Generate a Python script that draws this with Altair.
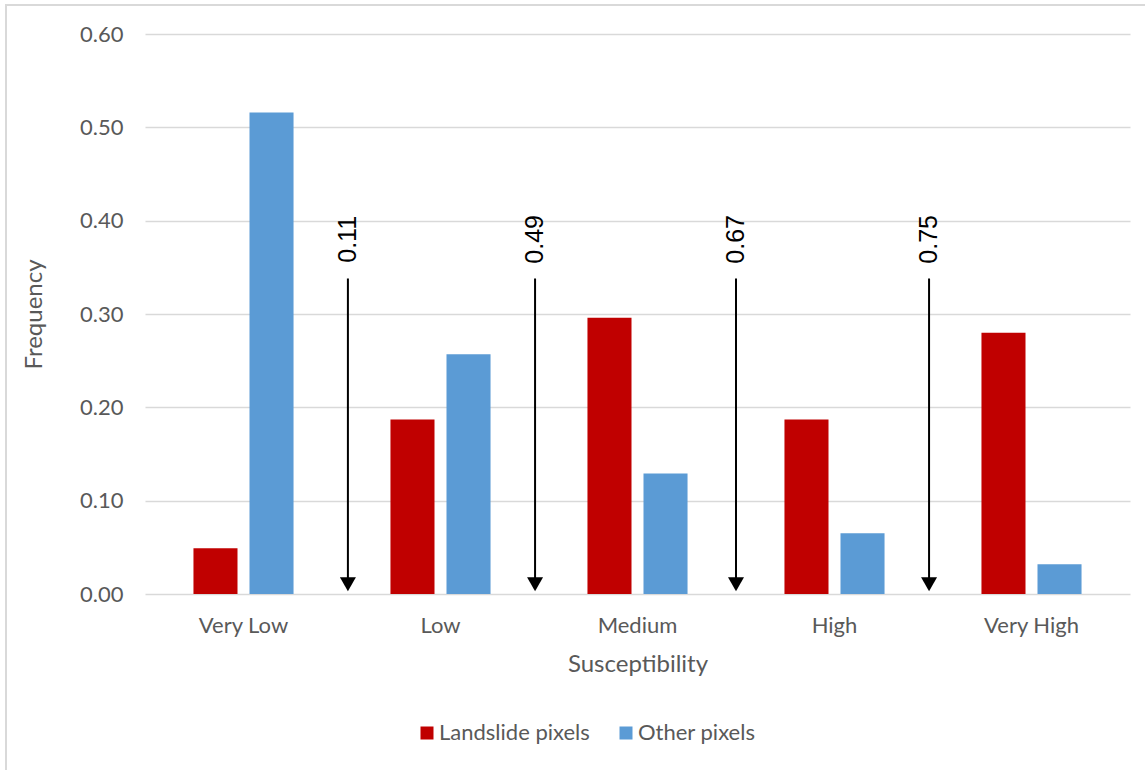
import altair as alt
import pandas as pd

categories = ["Very Low", "Low", "Medium", "High", "Very High"]
series = ["Landslide pixels", "Other pixels"]
landslide = [0.049, 0.187, 0.296, 0.187, 0.280]
other = [0.516, 0.257, 0.129, 0.065, 0.032]

# thresholds drawn as arrows between classes
thr_labels = ["0.11", "0.49", "0.67", "0.75"]
thr_pos = [1.03, 1.98, 3.0, 3.98]   # position along category axis (class boundaries)
arrow_top = 0.338
arrow_head = 0.0105
label_y = 0.38

rows = []
for c, a, b in zip(categories, landslide, other):
    rows.append({"cat": c, "series": series[0], "value": a})
    rows.append({"cat": c, "series": series[1], "value": b})
df = pd.DataFrame(rows)

arr = pd.DataFrame({"pos": thr_pos, "label": thr_labels,
                    "top": [arrow_top] * 4, "head": [arrow_head] * 4,
                    "ly": [label_y] * 4})

FONT = "Lato"
GRAY = "#595959"

yscale = alt.Scale(domain=[0, 0.6])
yaxis = alt.Axis(title="Frequency", values=[0, 0.1, 0.2, 0.3, 0.4, 0.5, 0.6],
                 format=".2f", ticks=False, domain=False,
                 gridColor="#d9d9d9", gridWidth=1.5,
                 labelPadding=22, titlePadding=33,
                 labelFontSize=22, titleFontSize=24,
                 labelColor=GRAY, titleColor=GRAY,
                 labelFont=FONT, titleFont=FONT, titleFontWeight="normal")

bars = alt.Chart(df).mark_bar().encode(
    x=alt.X("cat:N", sort=categories,
            scale=alt.Scale(paddingInner=0.492, paddingOuter=0.246),
            axis=alt.Axis(title="Susceptibility", labelAngle=0, ticks=False,
                          domain=False, labelPadding=21, titlePadding=16,
                          labelFontSize=22, titleFontSize=24,
                          labelColor=GRAY, titleColor=GRAY,
                          labelFont=FONT, titleFont=FONT, titleFontWeight="normal")),
    xOffset=alt.XOffset("series:N", sort=series,
                        scale=alt.Scale(paddingInner=0.214, paddingOuter=0)),
    y=alt.Y("value:Q", scale=yscale, axis=yaxis),
    color=alt.Color("series:N", sort=series,
                    scale=alt.Scale(domain=series, range=["#C00000", "#5B9BD5"]),
                    legend=alt.Legend(title=None, orient="none", direction="horizontal",
                                      legendX=271, legendY=688,
                                      symbolType="square", symbolSize=169,
                                      symbolStrokeWidth=0,
                                      labelFontSize=22, labelColor=GRAY, labelFont=FONT,
                                      labelOffset=1, columnPadding=25)),
)

xq = alt.X("pos:Q", scale=alt.Scale(domain=[0, 5], nice=False, zero=False), axis=None)

lines = alt.Chart(arr).mark_rule(color="black", strokeWidth=2).encode(
    x=xq,
    y=alt.Y("top:Q", scale=yscale, axis=yaxis),
    y2=alt.Y2("head"),
)
heads = alt.Chart(arr).mark_point(shape="triangle-down", filled=True, color="black",
                                  size=256, opacity=1).encode(
    x=xq,
    y=alt.Y("head:Q", scale=yscale, axis=yaxis),
)
labels = alt.Chart(arr).mark_text(angle=270, fontSize=25, font="Liberation Sans",
                                  color="black", align="center", baseline="middle").encode(
    x=xq,
    y=alt.Y("ly:Q", scale=yscale, axis=yaxis),
    text="label:N",
)
border = alt.Chart(arr).mark_rect(filled=False, stroke="#d9d9d9", strokeWidth=2).encode(
    x=alt.value(-139), x2=alt.value(1020), y=alt.value(-29), y2=alt.value(800)
)

overlay = alt.layer(border, lines, heads, labels)

chart = alt.layer(bars, overlay).resolve_scale(x="independent").properties(
    width=985, height=560,
    autosize=alt.AutoSizeParams(type="none"),
    padding={"left": 145, "top": 34, "right": 15, "bottom": 176},
).configure(background="white", view=alt.ViewConfig(stroke=None))

chart.save("out.html", embed_options={"renderer": "svg", "actions": False})
